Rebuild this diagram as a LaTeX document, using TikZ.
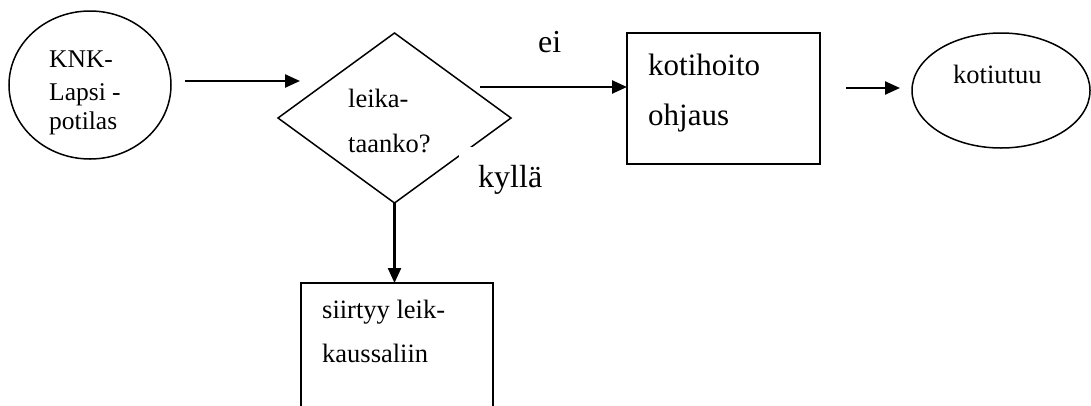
\documentclass[tikz,border=0pt]{standalone}
\usepackage{fontspec}
\setmainfont{Liberation Serif}
\usetikzlibrary{shapes.geometric,arrows.meta}
\begin{document}
\begin{tikzpicture}[x=1pt,y=-1pt,
  shapeline/.style={draw=black,line width=1.5pt,inner sep=0pt,outer sep=0pt},
  arr/.style={line width=2.4pt,-{Triangle[length=15pt,width=13pt]}},
  txt/.style={anchor=base west,inner sep=0pt,text=black},
  fa/.style={font=\fontsize{25.5}{30}\selectfont},
  fb/.style={font=\fontsize{26.5}{30}\selectfont},
  fc/.style={font=\fontsize{31}{36}\selectfont},
  fd/.style={font=\fontsize{32}{36}\selectfont}]
\useasboundingbox (0,0) rectangle (1091,405);
\clip (0,0) rectangle (1091,405);

% shapes
\node[shapeline,ellipse,minimum width=162pt,minimum height=148pt] (start) at (90,85) {};
\node[shapeline,diamond,minimum width=233pt,minimum height=170pt] (dec) at (394.5,118) {};
\node[shapeline,rectangle,minimum width=193pt,minimum height=131pt] (home) at (723.5,98.5) {};
\node[shapeline,ellipse,minimum width=178pt,minimum height=115pt] (done) at (1001,90.5) {};
\node[shapeline,rectangle,minimum width=192pt,minimum height=150pt] (surg) at (397,358) {};

% texts
\node[txt,fa] (tA) at (49,67) {KNK-};
\node[txt,fa] (tB) at (49,100) {Lapsi -};
\node[txt,fa] (tC) at (49,129) {potilas};
\node[txt,fb] (dA) at (348,107) {leika-};
\node[txt,fb] (dB) at (348,152) {taanko?};
\node[txt,fc] (hA) at (648,75) {kotihoito};
\node[txt,fc] (hB) at (648,125) {ohjaus};
\node[txt,fb] (eA) at (953,83) {kotiutuu};
\node[txt,fb] (sA) at (322,318) {siirtyy leik-};
\node[txt,fb] (sB) at (322,362) {kaussaliin};
\node[txt,fd] (no) at (538,52) {ei};
\node[anchor=north west,fill=white,inner xsep=19pt,inner ysep=18pt,
      text height=22pt,text depth=7pt,fd] (yes) at (459,147) {kyllä};

% connectors
\coordinate (a1s) at (185,81);
\coordinate (a1e) at (300,81);
\coordinate (a2s) at (480,87);
\coordinate (a3s) at (846,88);
\coordinate (a3e) at (900,88);
\draw[arr] (a1s) -- (a1e);
\draw[arr] (a2s) -- (a2s -| home.west);
\draw[arr] (a3s) -- (a3e);
\draw[arr] (dec.south) -- (dec.south |- surg.north);
\end{tikzpicture}
\end{document}
